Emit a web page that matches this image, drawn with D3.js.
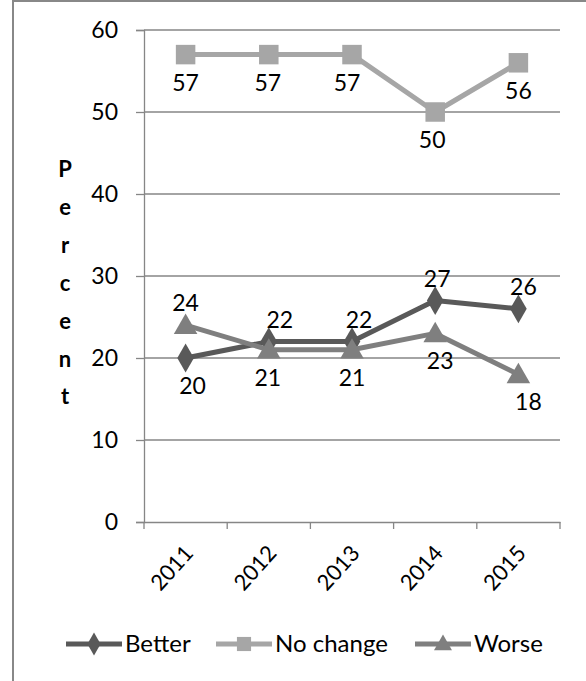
<!DOCTYPE html>
<html>
<head>
<meta charset="utf-8">
<script src="https://cdn.jsdelivr.net/npm/d3@7"></script>
<style>
  html, body { margin: 0; padding: 0; background: #fff; }
  svg { display: block; }
  text { font-family: Lato, "Open Sans", sans-serif; fill: #000; }
</style>
</head>
<body>
<svg id="chart" width="586" height="681"></svg>
<script>
// Survey results by year (percent)
const years = ["2011", "2012", "2013", "2014", "2015"];
const better = [20, 22, 22, 27, 26];
const noChange = [57, 57, 57, 50, 56];
const worse = [24, 21, 21, 23, 18];
const yTicks = [0, 10, 20, 30, 40, 50, 60];
const seriesNames = ["Better", "No change", "Worse"];
const seriesColors = ["#595959", "#a6a6a6", "#7f7f7f"];
// where each value label sits relative to its point
const betterLabelPos = ["below", "above", "above", "above", "above"];
const noChangeLabelPos = ["below", "below", "below", "below", "below"];
const worseLabelPos = ["above", "below", "below", "below", "below"];

const FONT = 23;
const series = [
  { name: seriesNames[0], values: better, color: seriesColors[0], type: d3.symbolDiamond, size: 240, legendSize: 150, pos: betterLabelPos, dx: [7, 11, 7, 2, 5] },
  { name: seriesNames[1], values: noChange, color: seriesColors[1], type: d3.symbolSquare, size: 380, legendSize: 200, pos: noChangeLabelPos, dx: [0, -1, -5, -3, 0] },
  { name: seriesNames[2], values: worse, color: seriesColors[2], type: d3.symbolTriangle, size: 240, legendSize: 140, pos: worseLabelPos, dx: [0, -1, 0, 5, 10] }
];

const svg = d3.select("#chart");
const plot = { left: 144, right: 560, top: 30, bottom: 522 };

// outer frame
svg.append("rect")
  .attr("x", 13).attr("y", 1)
  .attr("width", 700).attr("height", 800)
  .attr("fill", "none").attr("stroke", "#888").attr("stroke-width", 2);

const x = d3.scaleBand().domain(years).range([plot.left, plot.right]).padding(0);
const y = d3.scaleLinear().domain([0, 60]).range([plot.bottom, plot.top]);
const cx = d => x(d) + x.bandwidth() / 2;

// horizontal gridlines
svg.append("g").selectAll("line")
  .data(yTicks.filter(t => t > 0))
  .join("line")
  .attr("x1", plot.left).attr("x2", plot.right)
  .attr("y1", d => y(d)).attr("y2", d => y(d))
  .attr("stroke", "#868686").attr("stroke-width", 1.3);

// y axis
const yAxis = svg.append("g")
  .attr("transform", `translate(${plot.left},0)`)
  .call(d3.axisLeft(y).tickValues(yTicks).tickSize(8).tickPadding(18));
yAxis.select(".domain").attr("stroke", "#868686").attr("stroke-width", 1.3);
yAxis.selectAll(".tick line").attr("stroke", "#868686").attr("stroke-width", 1.3);
yAxis.selectAll(".tick text")
  .attr("font-family", "Lato, 'Open Sans', sans-serif")
  .attr("font-size", FONT).attr("fill", "#000");

// x axis
const xAxis = svg.append("g")
  .attr("transform", `translate(0,${plot.bottom})`)
  .call(d3.axisBottom(x).tickSize(0).tickFormat(""));
xAxis.select(".domain").attr("stroke", "#868686").attr("stroke-width", 1.3);
// category boundary ticks
svg.append("g").selectAll("line")
  .data(d3.range(years.length + 1))
  .join("line")
  .attr("x1", i => plot.left + i * x.bandwidth())
  .attr("x2", i => plot.left + i * x.bandwidth())
  .attr("y1", plot.bottom).attr("y2", plot.bottom + 7)
  .attr("stroke", "#868686").attr("stroke-width", 1.3);
// rotated year labels
svg.append("g").selectAll("text")
  .data(years)
  .join("text")
  .attr("text-anchor", "end")
  .attr("font-size", 22)
  .attr("transform", d => `translate(${cx(d) + 9},${plot.bottom + 32}) rotate(-48)`)
  .text(d => d);

// stacked y-axis title
const title = "Percent".split("");
svg.append("g").selectAll("text")
  .data(title)
  .join("text")
  .attr("x", 65)
  .attr("y", (d, i) => 177 + i * 37.9)
  .attr("text-anchor", "middle")
  .attr("font-weight", "bold")
  .attr("font-size", 22)
  .text(d => d);

const line = d3.line().x((d, i) => cx(years[i])).y(d => y(d));

series.forEach(s => {
  const g = svg.append("g");
  g.append("path")
    .attr("d", line(s.values))
    .attr("fill", "none")
    .attr("stroke", s.color)
    .attr("stroke-width", 5)
    .attr("stroke-linejoin", "round");
  g.selectAll("path.m")
    .data(s.values)
    .join("path")
    .attr("class", "m")
    .attr("d", d3.symbol().type(s.type).size(s.size))
    .attr("transform", (d, i) => `translate(${cx(years[i])},${y(d) + (s.type === d3.symbolTriangle ? 2 : 0)})`)
    .attr("fill", s.color);
});

// value labels
series.forEach(s => {
  svg.append("g").selectAll("text")
    .data(s.values)
    .join("text")
    .attr("x", (d, i) => cx(years[i]) + s.dx[i])
    .attr("y", (d, i) => y(d) + (s.pos[i] === "below" ? 36 : -14))
    .attr("text-anchor", "middle")
    .attr("font-size", FONT)
    .text(d => d);
});

// legend
const legendX = [66, 216, 415];
series.forEach((s, i) => {
  const lg = svg.append("g").attr("transform", `translate(${legendX[i]},644)`);
  lg.append("line").attr("x1", 0).attr("x2", 56).attr("y1", 0).attr("y2", 0)
    .attr("stroke", s.color).attr("stroke-width", 5);
  lg.append("path")
    .attr("d", d3.symbol().type(s.type).size(s.legendSize))
    .attr("transform", `translate(28,${s.type === d3.symbolTriangle ? 1 : 0})`)
    .attr("fill", s.color);
  lg.append("text").attr("x", 59).attr("y", 8).attr("font-size", 24).text(s.name);
});
</script>
</body>
</html>
